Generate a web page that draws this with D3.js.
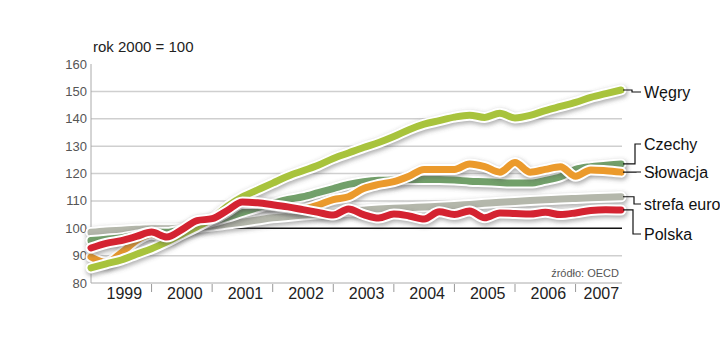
<!DOCTYPE html>
<html>
<head>
<meta charset="utf-8">
<script src="https://cdn.jsdelivr.net/npm/d3@7"></script>
<style>
  body { margin: 0; background: #fff; }
  svg { display: block; font-family: "Liberation Sans", Arial, sans-serif; }
</style>
</head>
<body>
<svg id="chart" width="720" height="360"></svg>
<script>
// quarters from 1999 Q1 to 2007 Q4
const quarters = d3.range(36).map(i => 1999 + i / 4);
const years = [1999, 2000, 2001, 2002, 2003, 2004, 2005, 2006, 2007];
const yTicks = [80, 90, 100, 110, 120, 130, 140, 150, 160];

const strefaEuro = [98.5, 99, 99.3, 99.6, 99.8, 99.8, 100, 100.3, 100.8, 101.5, 102.2, 103, 103.8, 104.3, 104.8, 105.3,
  105.8, 106.2, 106.6, 107, 107.3, 107.5, 107.8, 108, 108.3, 108.7, 109.1, 109.5, 109.8, 110.1, 110.4, 110.7, 110.9, 111.1, 111.3, 111.5];
const czechy = [95.5, 96, 96.5, 97.5, 98.5, 98.5, 99.5, 101, 102.5, 104, 105.8, 107.5, 109, 110.5, 111.5, 113,
  114.5, 116, 117, 117.5, 117.6, 117.8, 117.8, 117.8, 117.6, 117.2, 117, 116.7, 116.5, 116.5, 117.5, 118.8, 121.5, 122.5, 123, 123.5];
const slowacja = [89.5, 87.5, 91, 95.5, 97.8, 96.5, 99, 102.3, 103, 106, 109, 109, 108.3, 107.5, 107, 108.5,
  110.5, 111.5, 114.5, 116, 117, 119, 121.5, 121.5, 121.5, 123.5, 122.5, 120.5, 124, 120.5, 121.5, 122.5, 119, 121.3, 121, 120.5];
const wegry = [85.5, 87, 88.4, 90.5, 92.5, 95, 97.8, 100.5, 103.5, 108, 111.5, 114, 116.5, 119, 121, 123,
  125.5, 127.5, 129.5, 131.3, 133.5, 136, 138, 139.3, 140.6, 141.3, 140.5, 142, 140.3, 141.2, 143, 144.5, 146, 147.8, 149.2, 150.5];
const polska = [92.8, 94.5, 95.5, 97, 98.6, 96.8, 99.5, 102.8, 103.5, 106.5, 109.6, 109.3, 108.6, 107.8, 106.8, 105.8,
  104.8, 107, 105, 103.7, 105.2, 104.5, 103.4, 106, 105, 106.3, 103.8, 105.6, 105.4, 105.2, 105.8, 105, 105.6, 106.5, 106.8, 106.7];

const seriesNames = ["strefa euro", "Czechy", "Słowacja", "Węgry", "Polska"];
const seriesValues = [strefaEuro, czechy, slowacja, wegry, polska];
const seriesColors = ["#b4b7ab", "#72a06a", "#eb9a2c", "#a8c33c", "#d42331"];

const svg = d3.select("#chart");
const x = d3.scaleLinear().domain([1999, 2007.75]).range([91, 621]);
const y = d3.scaleLinear().domain([80, 160]).range([283, 64]);

// shadow filter
const defs = svg.append("defs");
defs.append("filter").attr("id", "shadow")
  .attr("x", "-10%").attr("y", "-50%").attr("width", "120%").attr("height", "200%")
  .append("feGaussianBlur").attr("stdDeviation", 2);

// grid lines
svg.append("g").selectAll("line")
  .data(yTicks.filter(d => d > 80 && d < 160))
  .enter().append("line")
  .attr("x1", x(1999)).attr("x2", 622)
  .attr("y1", d => y(d)).attr("y2", d => y(d))
  .attr("stroke", d => d == 100 ? "#111" : "#cfcfcf")
  .attr("stroke-width", d => d == 100 ? 1.3 : 1.5);

// y axis
svg.append("line").attr("x1", 91).attr("x2", 91).attr("y1", y(160)).attr("y2", y(80))
  .attr("stroke", "#aaa").attr("stroke-width", 1);
svg.append("line").attr("x1", 91).attr("x2", 622).attr("y1", y(80)).attr("y2", y(80))
  .attr("stroke", "#aaa").attr("stroke-width", 1);

svg.append("g").selectAll("text")
  .data(yTicks)
  .enter().append("text")
  .attr("x", 87).attr("y", d => y(d))
  .attr("dy", "0.35em")
  .attr("text-anchor", "end")
  .attr("font-size", 13)
  .attr("fill", "#555")
  .text(d => d);

svg.append("text").attr("x", 93).attr("y", 52)
  .attr("font-size", 15).attr("fill", "#222")
  .text("rok 2000 = 100");

// year separators + labels
svg.append("g").selectAll("line")
  .data(years.slice(1))
  .enter().append("line")
  .attr("x1", d => x(d)).attr("x2", d => x(d))
  .attr("y1", 284).attr("y2", 292)
  .attr("stroke", "#999");

svg.append("g").selectAll("text")
  .data(years)
  .enter().append("text")
  .attr("x", d => (x(d) + x(Math.min(d + 1, 2007.75))) / 2 + 3)
  .attr("y", 299)
  .attr("text-anchor", "middle")
  .attr("font-size", 16)
  .attr("fill", "#222")
  .text(d => d);

svg.append("text").attr("x", 619).attr("y", 277)
  .attr("text-anchor", "end").attr("font-size", 11).attr("fill", "#555")
  .text("źródło: OECD");

// lines
const line = d3.line()
  .x((d, i) => x(quarters[i]))
  .y(d => y(d))
  .curve(d3.curveMonotoneX);

seriesValues.forEach((vals, k) => {
  const g = svg.append("g");
  g.append("path").attr("d", line(vals))
    .attr("fill", "none").attr("stroke", "#555").attr("stroke-opacity", 0.45)
    .attr("stroke-width", 12).attr("stroke-linecap", "round").attr("stroke-linejoin", "round")
    .attr("transform", "translate(1,2)")
    .attr("filter", "url(#shadow)");
  g.append("path").attr("d", line(vals))
    .attr("fill", "none").attr("stroke", "#fff")
    .attr("stroke-width", 11).attr("stroke-linecap", "round").attr("stroke-linejoin", "round");
  g.append("path").attr("d", line(vals))
    .attr("fill", "none").attr("stroke", seriesColors[k])
    .attr("stroke-width", 7).attr("stroke-linecap", "round").attr("stroke-linejoin", "round");
});

// legend labels with connectors
const labelY = {"Węgry": 92, "Czechy": 144, "Słowacja": 172, "strefa euro": 204, "Polska": 234};
const elbowX = {"Węgry": 632, "Czechy": 635, "Słowacja": 636, "strefa euro": 634, "Polska": 633};
seriesNames.forEach((name, k) => {
  const vals = seriesValues[k];
  const ex = x(quarters[quarters.length - 1]) + 2;
  const ey = y(vals[vals.length - 1]);
  const ly = labelY[name];
  const mx = elbowX[name];
  svg.append("path")
    .attr("d", `M${ex},${ey}H${mx}V${ly}H${641}`)
    .attr("fill", "none").attr("stroke", "#111").attr("stroke-width", 1.2);
  svg.append("text").attr("x", 644).attr("y", ly).attr("dy", "0.35em")
    .attr("font-size", 16).attr("fill", "#111")
    .text(name);
});
</script>
</body>
</html>
